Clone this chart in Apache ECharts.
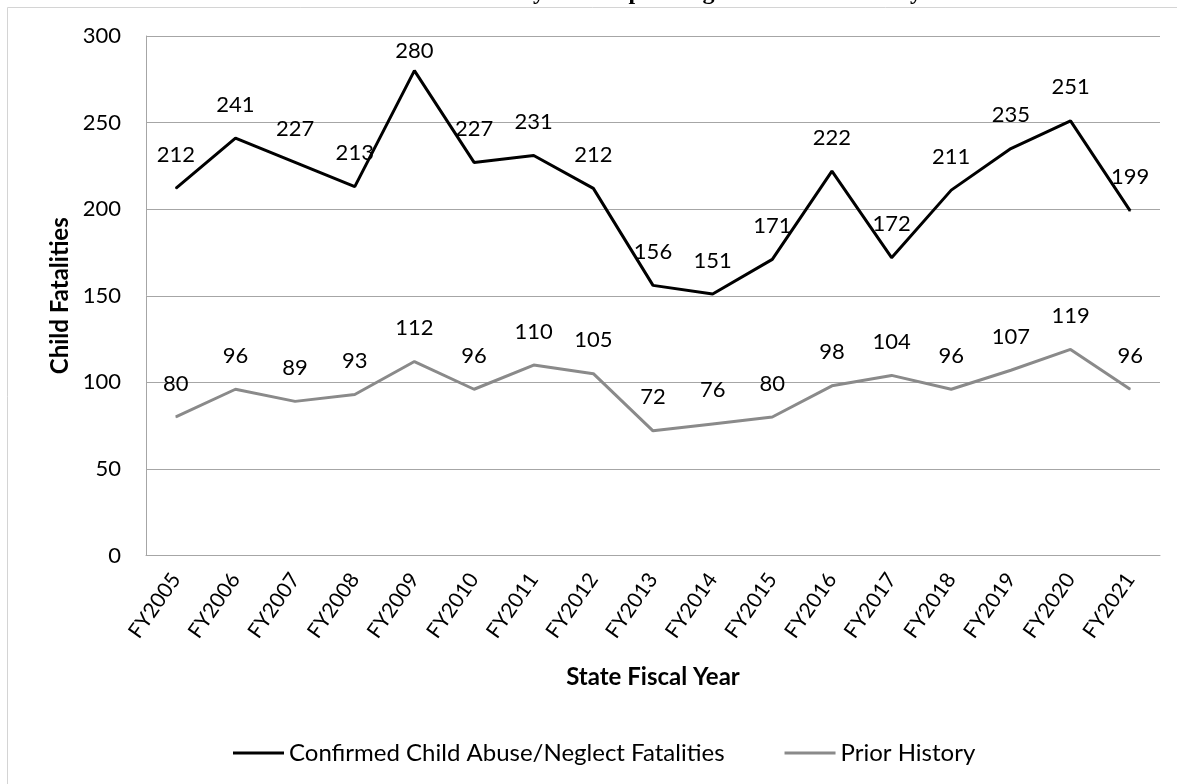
<!DOCTYPE html>
<html>
<head>
<meta charset="utf-8">
<script src="https://cdn.jsdelivr.net/npm/echarts@6/dist/echarts.min.js"></script>
<style>
html,body{margin:0;padding:0;background:#fff;}
#chart{width:1177px;height:784px;}
</style>
</head>
<body>
<div id="chart"></div>
<script>
const titleText = "Fatalities with Prior History of CPS per Stage at Time of Fatality";
const categories = ["FY2005","FY2006","FY2007","FY2008","FY2009","FY2010","FY2011","FY2012","FY2013","FY2014","FY2015","FY2016","FY2017","FY2018","FY2019","FY2020","FY2021"];
const confirmedName = "Confirmed Child Abuse/Neglect Fatalities";
const confirmedValues = [212,241,227,213,280,227,231,212,156,151,171,222,172,211,235,251,199];
const priorName = "Prior History";
const priorValues = [80,96,89,93,112,96,110,105,72,76,80,98,104,96,107,119,96];
const yTicks = {min:0, max:300, interval:50};

const FONT = "Lato, 'Open Sans', sans-serif";
const GRID_TOP = 36;

const chart = echarts.init(document.getElementById('chart'), null, {renderer:'canvas'});
const labelCommon = {
  show:true, position:'top', distance:22,
  fontFamily:FONT, fontSize:22, color:'#000'
};
chart.setOption({
  animation:false,
  backgroundColor:'#fff',
  title:{
    text:titleText, left:'center', top:-24,
    textStyle:{fontFamily:"'Liberation Serif', serif", fontWeight:'bold', fontSize:24, color:'#000'}
  },
  graphic:[{
    type:'rect', silent:true, z:-1,
    shape:{x:7.5, y:7.5, width:1300, height:1000},
    style:{fill:'none', stroke:'#d4d4d4', lineWidth:1}
  }],
  grid:{left:146, right:17, top:GRID_TOP, bottom:228.5, containLabel:false},
  legend:{
    left:228, top:736, icon:'rect', itemWidth:51, itemHeight:3, itemGap:60,
    textStyle:{fontFamily:FONT, fontSize:24, color:'#000'},
    data:[confirmedName, priorName]
  },
  xAxis:{
    type:'category', data:categories, boundaryGap:true,
    name:'State Fiscal Year', nameLocation:'middle', nameGap:110,
    nameTextStyle:{fontFamily:FONT, fontWeight:'bold', fontSize:24, color:'#000'},
    axisLine:{show:true, lineStyle:{color:'#a6a6a6', width:1}},
    axisTick:{show:false},
    axisLabel:{rotate:55, margin:20, fontFamily:FONT, fontSize:21, color:'#000', interval:0}
  },
  yAxis:{
    type:'value', min:yTicks.min, max:yTicks.max, interval:yTicks.interval,
    name:'Child Fatalities', nameLocation:'middle', nameGap:74, nameRotate:90,
    nameTextStyle:{fontFamily:FONT, fontWeight:'bold', fontSize:24, color:'#000'},
    axisLine:{show:true, lineStyle:{color:'#a6a6a6', width:1}},
    axisTick:{show:false},
    splitLine:{show:true, lineStyle:{color:'#a6a6a6', width:1}},
    axisLabel:{margin:25, fontFamily:FONT, fontSize:22, color:'#000'}
  },
  series:[
    {
      name:confirmedName, type:'line', data:confirmedValues,
      symbol:'circle', symbolSize:1, showSymbol:true,
      lineStyle:{color:'#000', width:3}, itemStyle:{color:'#000'},
      label:labelCommon,
      labelLayout:function(p){
        const r = p.labelRect;
        if (r.y < GRID_TOP + 4) return {dy: GRID_TOP + 4 - r.y};
        return {};
      },
      z:3
    },
    {
      name:priorName, type:'line', data:priorValues,
      symbol:'circle', symbolSize:1, showSymbol:true,
      lineStyle:{color:'#8a8a8a', width:3}, itemStyle:{color:'#8a8a8a'},
      label:labelCommon,
      z:2
    }
  ]
});
</script>
</body>
</html>
